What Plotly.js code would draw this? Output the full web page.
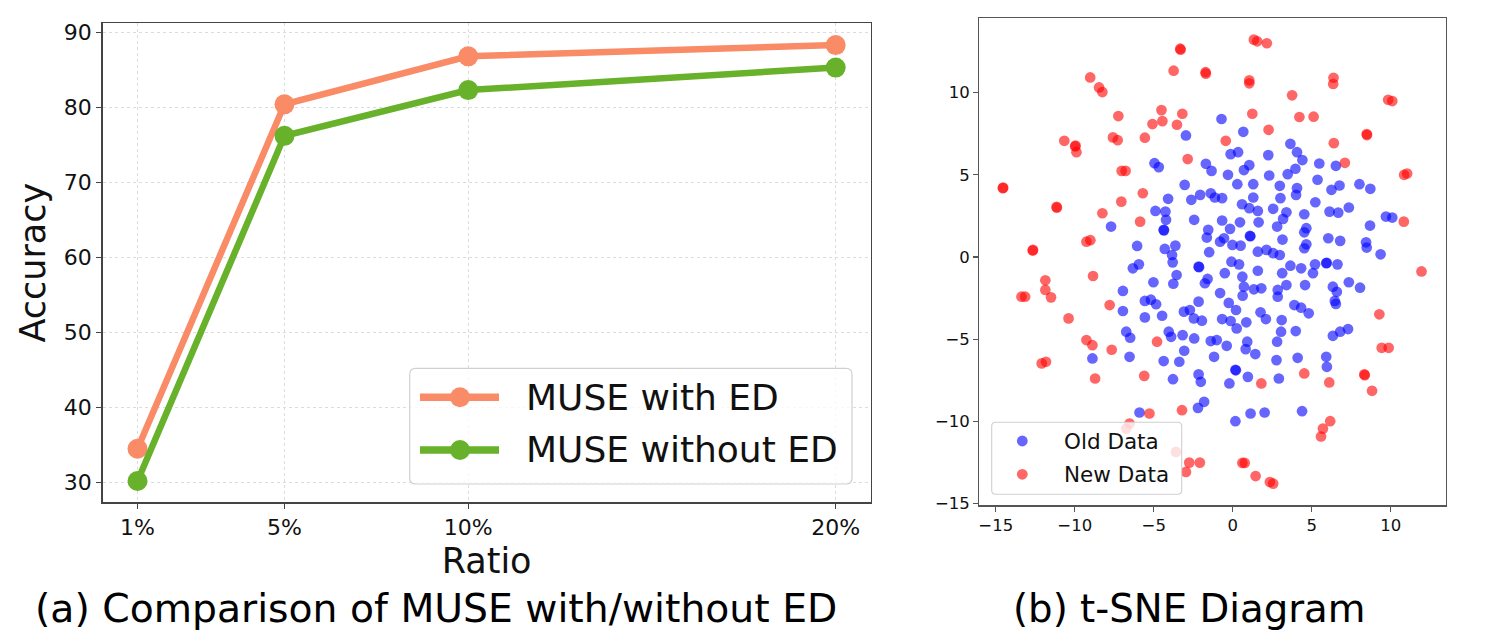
<!DOCTYPE html>
<html><head><meta charset="utf-8">
<script src="https://cdn.plot.ly/plotly-3.0.1.min.js"></script>
<style>html,body{margin:0;padding:0;background:#fff}#chart{width:1496px;height:639px}</style>
</head><body><div id="chart"></div>
<script>
// ---- data: (a) accuracy vs ratio ----
const ratios = [1, 5, 10, 20];
const ratioLabels = ['1%', '5%', '10%', '20%'];
const seriesNames = ['MUSE with ED', 'MUSE without ED'];
const withED = [34.5, 80.4, 86.8, 88.3];
const withoutED = [30.2, 76.2, 82.3, 85.3];
const accTicks = [30, 40, 50, 60, 70, 80, 90];

// ---- data: (b) t-SNE points ----
const oldX = [-2.96,-4.95,-4.68,-0.71,0.67,3.65,-0.13,0.34,2.25,4.07,4.41,5.48,6.53,-1.70,-1.34,1.05,0.71,3.97,3.48,-0.30,2.31,5.37,0.29,1.30,2.98,4.07,4.01,6.25,6.76,8.02,8.71,-1.39,-1.13,-0.67,1.30,3.02,5.23,0.59,1.05,1.59,2.56,3.40,3.19,4.53,6.13,6.68,7.35,9.70,10.10,-0.67,0.46,1.64,-1.55,-1.64,-0.17,-0.55,-0.02,1.09,1.12,0.50,-0.80,2.81,3.15,4.66,4.53,4.66,4.53,6.05,6.80,8.69,8.44,8.48,9.36,1.59,2.14,2.56,2.98,-1.49,-0.08,0.40,-0.50,1.59,3.65,4.33,3.13,5.08,5.21,5.92,5.95,6.63,0.61,-1.59,-1.76,0.71,1.34,1.81,3.40,2.85,2.85,4.58,6.34,6.59,7.35,8.06,0.63,-0.80,-0.25,0.21,3.90,4.33,4.81,6.46,6.53,1.76,2.10,3.10,-0.67,-0.13,0.25,0.86,3.06,3.99,6.34,6.80,7.30,-1.39,-1.01,-0.38,0.92,0.82,1.43,2.81,-1.18,2.77,4.11,5.92,5.96,0.17,0.20,0.96,-0.21,2.92,1.13,2.02,0.17,4.39,-7.70,-3.04,-2.62,-2.06,-4.09,-4.89,-4.26,-4.22,-2.44,-4.37,-4.35,-6.05,-4.30,-3.63,-3.84,-3.80,-6.32,-5.94,-2.16,-2.13,-3.55,-3.76,-5.02,-6.95,-5.56,-5.18,-4.85,-2.16,-6.95,-5.56,-4.47,-3.09,-2.71,-2.46,-1.95,-6.74,-6.49,-4.05,-3.90,-3.17,-2.44,-3.07,-8.88,-6.53,-4.37,-3.38,-3.78,-2.16,-2.02,-2.20,-1.81,-5.90];
const oldY = [7.40,5.71,5.47,8.40,7.62,6.89,6.26,6.38,6.20,6.38,5.90,5.69,5.55,5.67,5.24,5.59,5.29,5.37,5.04,5.00,4.96,4.70,4.43,4.43,4.33,4.19,3.78,4.09,4.35,4.43,4.15,3.88,3.62,3.58,3.62,3.58,3.33,3.21,2.97,2.80,2.93,2.72,2.32,2.60,2.76,2.70,3.01,2.46,2.40,2.22,2.11,2.11,1.65,1.18,1.71,1.14,0.73,1.28,1.26,0.69,0.93,1.85,1.06,1.75,1.50,0.77,0.53,1.14,0.98,1.91,0.89,0.57,0.16,0.32,0.43,0.23,0.12,0.29,-0.29,-0.45,-0.99,-0.84,-0.53,-0.69,-0.99,-0.99,-0.45,-0.38,-0.36,-0.45,-1.20,-1.34,-1.60,-1.81,-1.97,-1.91,-1.71,-2.01,-2.42,-1.71,-1.81,-2.12,-1.54,-1.87,-2.36,-2.20,-2.80,-3.23,-2.93,-3.09,-3.43,-2.68,-2.86,-3.37,-3.78,-3.84,-3.78,-3.90,-4.35,-3.98,-4.55,-4.51,-4.80,-4.55,-4.39,-5.12,-5.06,-5.41,-5.16,-5.61,-5.91,-5.16,-6.08,-6.28,-6.14,-6.08,-6.69,-6.87,-6.90,-7.30,-7.70,-7.40,-9.53,-9.47,-10.0,-9.39,1.85,4.39,3.48,3.78,3.54,2.80,2.76,2.26,2.26,1.65,1.62,0.67,0.49,0.69,0.12,-0.33,-0.69,-0.45,-0.59,-0.62,-1.10,-1.63,-1.54,-2.07,-2.68,-2.60,-2.88,-2.72,-3.29,-3.68,-3.58,-3.33,-3.23,-3.74,-3.88,-4.55,-4.92,-4.55,-4.86,-4.76,-4.96,-5.71,-6.18,-6.08,-6.34,-6.38,-7.44,-7.15,-7.60,-9.19,-8.82,-9.47];
const newX = [-3.32,-3.30,-3.74,-9.02,-8.46,-8.25,-7.24,-4.51,-3.19,-5.08,-4.45,-3.53,-10.66,-9.97,-9.95,-9.89,-7.58,-7.28,-5.56,-2.85,-7.03,-6.78,1.34,1.55,2.16,-1.70,-1.72,1.05,1.05,6.38,6.36,3.76,9.84,10.10,1.24,4.22,5.12,2.27,-0.44,8.50,8.48,6.40,7.10,10.85,11.04,10.83,9.28,11.95,9.43,9.87,1.81,4.53,6.11,8.33,8.36,8.82,6.17,5.71,5.59,0.61,0.76,1.45,2.35,2.56,-14.55,-14.53,-11.15,-11.13,-5.69,-7.05,-8.25,-5.86,-9.26,-9.01,-12.66,-12.64,-8.84,-11.86,-11.86,-11.50,-13.37,-13.14,-7.79,-10.39,-9.26,-8.88,-4.79,-7.66,-12.09,-11.82,-8.71,-5.60,-5.27,-3.21,-6.53,-6.74,-3.59,-2.75,-2.08,-2.96];
const newY = [12.68,12.62,11.34,10.93,10.32,10.04,8.58,8.94,8.72,8.09,8.27,8.05,7.07,6.73,6.78,6.38,7.28,7.11,7.26,5.96,5.24,5.24,13.23,13.13,13.01,11.16,11.25,10.75,10.57,10.91,10.53,9.84,9.57,9.49,8.72,8.52,8.54,7.74,7.07,7.42,7.48,6.93,5.73,5.00,5.08,2.15,-3.49,-0.88,-5.53,-5.53,-7.70,-7.09,-7.64,-7.15,-7.20,-8.15,-10.0,-10.45,-10.93,-12.54,-12.54,-13.34,-13.70,-13.80,4.19,4.22,3.05,3.00,3.88,3.37,2.66,2.15,0.93,1.02,0.39,0.43,-1.16,-1.42,-2.01,-2.46,-2.42,-2.42,-2.93,-3.74,-5.06,-5.37,-5.16,-5.65,-6.48,-6.38,-7.40,-7.24,-9.53,-9.33,-10.14,-10.45,-11.87,-12.52,-12.52,-13.09];
const tsneNames = ['Old Data', 'New Data'];
const captions = ['(a) Comparison of MUSE with/without ED', '(b) t-SNE Diagram'];

// ---- styling ----
const W = 1496, H = 639;
const px = x => x / W, py = y => 1 - y / H;
const colors = ['#F98B66', '#67B12B'];
const tsneColors = ['rgb(0,0,255)', 'rgb(255,0,0)'];
const tsneLegendColors = ['rgba(0,0,255,0.6)', 'rgba(255,0,0,0.6)'];
const FONT = 'DejaVu Sans, sans-serif';

const traces = [
  {x: ratios, y: withED, name: seriesNames[0], type: 'scatter', mode: 'lines+markers',
   line: {color: colors[0], width: 6.5}, marker: {color: colors[0], size: 20},
   xaxis: 'x', yaxis: 'y', showlegend: false, cliponaxis: false},
  {x: ratios, y: withoutED, name: seriesNames[1], type: 'scatter', mode: 'lines+markers',
   line: {color: colors[1], width: 6.5}, marker: {color: colors[1], size: 20},
   xaxis: 'x', yaxis: 'y', showlegend: false, cliponaxis: false},
  {x: oldX, y: oldY, name: tsneNames[0], type: 'scatter', mode: 'markers',
   marker: {color: tsneColors[0], opacity: 0.6, size: 10.7, line: {width: 0}},
   xaxis: 'x2', yaxis: 'y2', showlegend: false},
  {x: newX, y: newY, name: tsneNames[1], type: 'scatter', mode: 'markers',
   marker: {color: tsneColors[1], opacity: 0.6, size: 10.7, line: {width: 0}},
   xaxis: 'x2', yaxis: 'y2', showlegend: false}
];

function roundRect(x0, y0, x1, y1, r) {
  const P = (x, y) => px(x) + ',' + py(y);
  return 'M' + P(x0 + r, y0) + ' L' + P(x1 - r, y0) + ' Q' + P(x1, y0) + ' ' + P(x1, y0 + r) +
    ' L' + P(x1, y1 - r) + ' Q' + P(x1, y1) + ' ' + P(x1 - r, y1) +
    ' L' + P(x0 + r, y1) + ' Q' + P(x0, y1) + ' ' + P(x0, y1 - r) +
    ' L' + P(x0, y0 + r) + ' Q' + P(x0, y0) + ' ' + P(x0 + r, y0) + ' Z';
}

const shapes = [];
const annotations = [];

// legend of (a)
const legRows = [397.3, 450];
shapes.push({type: 'path', xref: 'paper', yref: 'paper', path: roundRect(409.7, 368.3, 852, 484, 6),
  fillcolor: 'rgba(255,255,255,0.8)', line: {color: '#d0d0d0', width: 1.2}, layer: 'above'});
seriesNames.forEach((name, i) => {
  shapes.push({type: 'line', xref: 'paper', yref: 'paper', x0: px(420), x1: px(499),
    y0: py(legRows[i]), y1: py(legRows[i]), line: {color: colors[i], width: 7.5}, layer: 'above'});
  shapes.push({type: 'circle', xref: 'paper', yref: 'paper', xsizemode: 'pixel', ysizemode: 'pixel',
    xanchor: px(460), yanchor: py(legRows[i]), x0: -10, x1: 10, y0: -10, y1: 10,
    fillcolor: colors[i], line: {width: 0}, layer: 'above'});
  annotations.push({xref: 'paper', yref: 'paper', x: px(524), y: py(legRows[i]),
    xanchor: 'left', yanchor: 'middle', showarrow: false, text: name,
    font: {family: FONT, size: 36, color: '#111'}});
});

// legend of (b)
const legRows2 = [441, 474.3];
shapes.push({type: 'path', xref: 'paper', yref: 'paper', path: roundRect(991.7, 422.3, 1181.7, 494.3, 4),
  fillcolor: 'rgba(255,255,255,0.8)', line: {color: '#d0d0d0', width: 1.1}, layer: 'above'});
tsneNames.forEach((name, i) => {
  shapes.push({type: 'circle', xref: 'paper', yref: 'paper', xsizemode: 'pixel', ysizemode: 'pixel',
    xanchor: px(1022.3), yanchor: py(legRows2[i]), x0: -5.4, x1: 5.4, y0: -5.4, y1: 5.4,
    fillcolor: tsneLegendColors[i], line: {width: 0}, layer: 'above'});
  annotations.push({xref: 'paper', yref: 'paper', x: px(1062), y: py(legRows2[i]),
    xanchor: 'left', yanchor: 'middle', showarrow: false, text: name,
    font: {family: FONT, size: 21.5, color: '#111'}});
});

// captions
annotations.push({xref: 'paper', yref: 'paper', x: px(436), y: py(608), xanchor: 'center', yanchor: 'middle',
  showarrow: false, text: captions[0], font: {family: FONT, size: 39.3, color: '#000'}});
annotations.push({xref: 'paper', yref: 'paper', x: px(1189), y: py(608), xanchor: 'center', yanchor: 'middle',
  showarrow: false, text: captions[1], font: {family: FONT, size: 38.7, color: '#000'}});

const axisCommon = {showline: true, mirror: true, ticks: 'outside', zeroline: false, automargin: false};

const layout = {
  width: W, height: H, margin: {l: 0, r: 0, t: 0, b: 0},
  paper_bgcolor: '#fff', plot_bgcolor: '#fff',
  font: {family: FONT, color: '#111'},
  showlegend: false,
  xaxis: Object.assign({}, axisCommon, {
    domain: [px(102.6), px(870.6)], range: [0.05, 20.95],
    tickmode: 'array', tickvals: ratios, ticktext: ratioLabels,
    linecolor: '#444', linewidth: 1.5, ticklen: 5, tickwidth: 1.3, tickcolor: '#444',
    showgrid: true, gridcolor: '#dcdcdc', griddash: '3px,3px', gridwidth: 1,
    tickfont: {family: FONT, size: 22, color: '#111'},
    title: {text: 'Ratio', font: {family: FONT, size: 35, color: '#111'}, standoff: 9},
    anchor: 'y'}),
  yaxis: Object.assign({}, axisCommon, {
    domain: [py(502), py(23.3)], range: [27.4, 91.2],
    tickmode: 'array', tickvals: accTicks,
    linecolor: '#444', linewidth: 1.5, ticklen: 5, tickwidth: 1.3, tickcolor: '#444',
    showgrid: true, gridcolor: '#dcdcdc', griddash: '3px,3px', gridwidth: 1,
    tickfont: {family: FONT, size: 22, color: '#111'},
    title: {text: 'Accuracy', font: {family: FONT, size: 35, color: '#111'}, standoff: 7},
    anchor: 'x'}),
  xaxis2: Object.assign({}, axisCommon, {
    domain: [px(979.3), px(1446)], range: [-16.04, 13.5],
    tick0: 0, dtick: 5, showgrid: false,
    linecolor: '#555', linewidth: 1.2, ticklen: 5, tickwidth: 1.1, tickcolor: '#555',
    tickfont: {family: FONT, size: 16.5, color: '#111'}, anchor: 'y2'}),
  yaxis2: Object.assign({}, axisCommon, {
    domain: [py(505.3), py(18.3)], range: [-15.12, 14.53],
    tick0: 0, dtick: 5, showgrid: false,
    linecolor: '#555', linewidth: 1.2, ticklen: 5, tickwidth: 1.1, tickcolor: '#555',
    tickfont: {family: FONT, size: 16.5, color: '#111'}, anchor: 'x2'}),
  shapes: shapes, annotations: annotations
};

Plotly.newPlot('chart', traces, layout, {displayModeBar: false, staticPlot: true});
</script></body></html>
